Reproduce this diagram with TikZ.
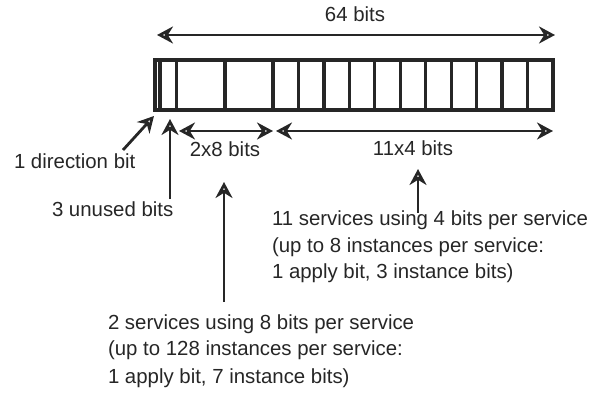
\documentclass[tikz,border=0pt]{standalone}
\usepackage{fontspec}
\setmainfont{Liberation Sans}
\usetikzlibrary{arrows.meta}

\begin{document}
\begin{tikzpicture}[
    x=0.5pt, y=-0.5pt,
    every node/.style={
        inner sep=0pt,
        outer sep=0pt,
    },
    outerbox/.style={
        draw=black!85,
        line width=1.8pt,
    },
    divider/.style={
        draw=black!85,
        line width=1.6pt,
    },
    measure/.style={
        draw=black!85,
        line width=1.4pt,
        {Stealth[open,length=8pt,width=8.5pt]}-{Stealth[open,length=8pt,width=8.5pt]},
    },
    pointer/.style={
        draw=black!85,
        line width=1.4pt,
        -{Stealth[open,length=8pt,width=8.5pt]},
    },
    note/.style={
        font=\fontsize{10.2}{12}\selectfont,
        text=black!85,
        anchor=base west,
    },
]
    \useasboundingbox (0,0) rectangle (613,399);

    % ~~~ the 64-bit word ~~~~~~~~~~~~~~~~~~~~~~~~~~~~~~~~~~~~~~~~~
    \draw[outerbox] (155,60) rectangle (553,110);
    \foreach \x in {160,176.7,225,273}{
        \draw[divider] (\x,60) -- (\x,110);
    }
    \foreach \i in {1,...,10}{
        \draw[divider] ({273+\i*25.45},60) -- ({273+\i*25.45},110);
    }

    % ~~~ widths ~~~~~~~~~~~~~~~~~~~~~~~~~~~~~~~~~~~~~~~~~~~~~~~~~~~
    \coordinate (wordL) at (157,35);
    \coordinate (wordR) at (555,35);
    \coordinate (eightL) at (179,131);
    \coordinate (eightR) at (273,131);
    \coordinate (fourL) at (276,131);
    \coordinate (fourR) at (553,131);
    \draw[measure] (wordL) -- (wordR);
    \draw[measure] (eightL) -- (eightR);
    \draw[measure] (fourL) -- (fourR);
    \node[note,anchor=base] (wordlbl) at (355,22) {64 bits};
    \node[note,anchor=base] (eightlbl) at (225,157) {2x8 bits};
    \node[note,anchor=base] (fourlbl) at (413,156) {11x4 bits};

    % ~~~ single fields ~~~~~~~~~~~~~~~~~~~~~~~~~~~~~~~~~~~~~~~~~~~~
    \node[note] (dirlbl) at (14,169) {1 direction bit};
    \node[note] (unusedlbl) at (52,217) {3 unused bits};
    \coordinate (dirtail) at (123,150);
    \coordinate (dirtip) at (154,116);
    \coordinate (unusedtip) at (170,119);
    \draw[pointer] (dirtail) -- (dirtip);
    \draw[pointer] ([yshift=1.5pt]unusedlbl.north -| unusedtip) -- (unusedtip);

    % ~~~ service blocks ~~~~~~~~~~~~~~~~~~~~~~~~~~~~~~~~~~~~~~~~~~~
    \node[note] (fourA) at (272,226) {11 services using 4 bits per service};
    \node[note] (fourB) at (272,252.5) {(up to 8 instances per service:};
    \node[note] (fourC) at (272,279) {1 apply bit, 3 instance bits)};
    \coordinate (fourtip) at (418,169);
    \draw[pointer] ([yshift=-1pt]fourA.north -| fourtip) -- (fourtip);

    \node[note] (eightA) at (108,329) {2 services using 8 bits per service};
    \node[note] (eightB) at (108,356) {(up to 128 instances per service:};
    \node[note] (eightC) at (108,383) {1 apply bit, 7 instance bits)};
    \coordinate (eighttip) at (224,182);
    \draw[pointer] ([yshift=6pt]eightA.north -| eighttip) -- (eighttip);
\end{tikzpicture}
\end{document}
